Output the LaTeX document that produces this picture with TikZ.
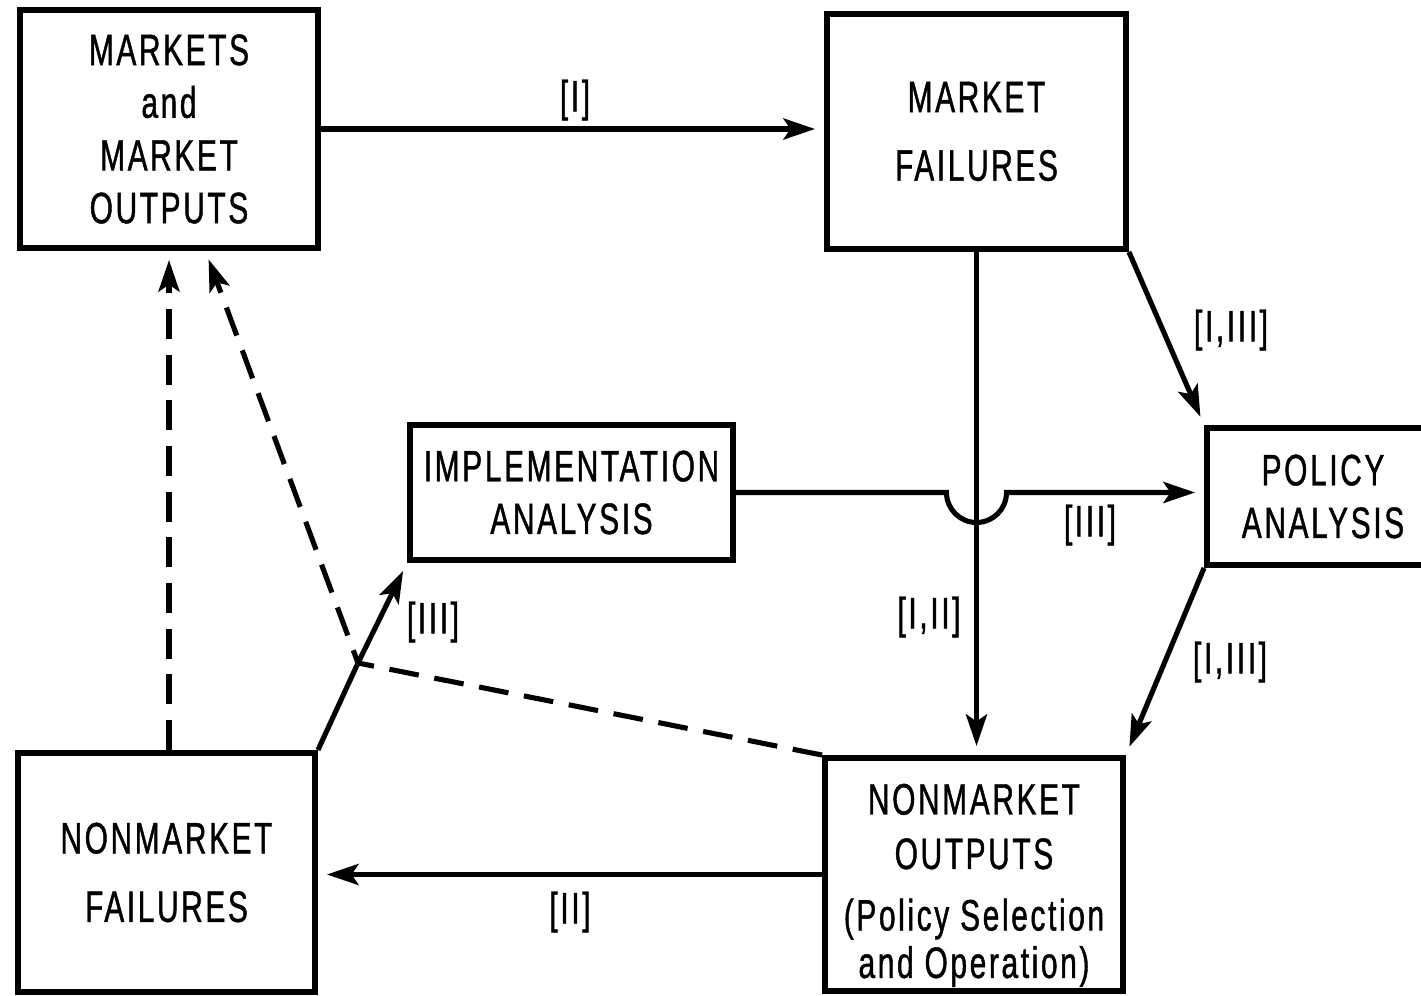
\documentclass[tikz,border=0pt]{standalone}
\usepackage{fontspec}
\setmainfont{Liberation Sans}[FakeStretch=0.68,LetterSpace=6,FakeBold=1]
\usetikzlibrary{calc}
\usetikzlibrary{arrows.meta}

\begin{document}
\begin{tikzpicture}[x=0.02cm,y=-0.02cm]

\def \CharSize {\fontsize{25}{30}\selectfont}
\def \BoxWidth {3.4pt}
\def \ArrowWidth {2.9pt}

\tikzset{
  boite/.style={draw, line width=\BoxWidth, align=center, inner sep=0pt, font=\CharSize},
  fleche/.style={line width=\ArrowWidth, -{Stealth[length=18pt, width=12pt, inset=4pt]}, shorten >=0.18cm},
  pointille/.style={line width=\ArrowWidth, dash pattern=on 17pt off 9pt},
  renvoi/.style={font=\CharSize, inner sep=0pt}
}

\useasboundingbox (0,0) rectangle (1421,996);
\clip (0,0) rectangle (1421,996);

% boites
\node[boite, minimum width=5.96cm, minimum height=4.76cm] (mmo) at (169,129)
  {MARKETS\\and\\MARKET\\OUTPUTS};
\node[boite, minimum width=5.98cm, minimum height=4.70cm] (mf) at (976.5,131.5)
  {MARKET\\[9pt]FAILURES};
\node[boite, minimum width=6.46cm, minimum height=2.70cm] (impl) at (571.5,492.5)
  {IMPLEMENTATION\\ANALYSIS};
\node[boite, minimum width=4.64cm, minimum height=2.74cm] (policy) at (1323,496.5)
  {POLICY\\ANALYSIS};
\node[boite, minimum width=5.94cm, minimum height=4.78cm] (nmf) at (166.5,872.5)
  {NONMARKET\\[9pt]FAILURES};
\node[boite, minimum width=5.96cm, minimum height=4.66cm] (nmo) at (974,874.5)
  {\rule{0pt}{1.05cm}NONMARKET\\[1pt]OUTPUTS\\[5pt](Policy Selection\\[-3pt]and Operation)};

\coordinate (jonction) at (358,663);
\coordinate (croisement) at (mf.south |- impl.east);

% fleches pleines
\draw[fleche] (mmo.east) -- (mmo.east -| mf.west);
\draw[fleche] (mf.south) -- (mf.south |- nmo.north);
\draw[fleche] (impl.east) -- ($(croisement)+(-30,0)$) arc[start angle=180, end angle=0, radius=30]
  -- (croisement -| policy.west);
\draw[fleche] (mf.south east) -- (policy.north west);
\draw[fleche] (policy.south west) -- (nmo.north east);
\draw[fleche] (nmo.west) -- (nmo.west -| nmf.east);
\draw[fleche] (nmf.north east) -- (jonction) -- (impl.south west);

% fleches en pointille
\draw[pointille, -{Stealth[length=18pt, width=12pt, inset=4pt]}, shorten >=0.18cm]
  (nmo.north west) -- (jonction) -- ($(mmo.south west)!0.62!(mmo.south east)$);
\draw[pointille, -{Stealth[length=18pt, width=12pt, inset=4pt]}, shorten >=0.18cm]
  (mmo.south |- nmf.north) -- (mmo.south);

% renvois
\node[renvoi] (rI) at (575,100) {[I]};
\node[renvoi] (rIII) at (1090,525) {[III]};
\node[renvoi] (rIII2) at (433,622) {[III]};
\node[renvoi] (rIII3) at (1231,330) {[I,III]};
\node[renvoi] (rIII4) at (1230,662) {[I,III]};
\node[renvoi] (rIII5) at (929,617) {[I,II]};
\node[renvoi] (rII) at (570,912) {[II]};

\end{tikzpicture}
\end{document}
